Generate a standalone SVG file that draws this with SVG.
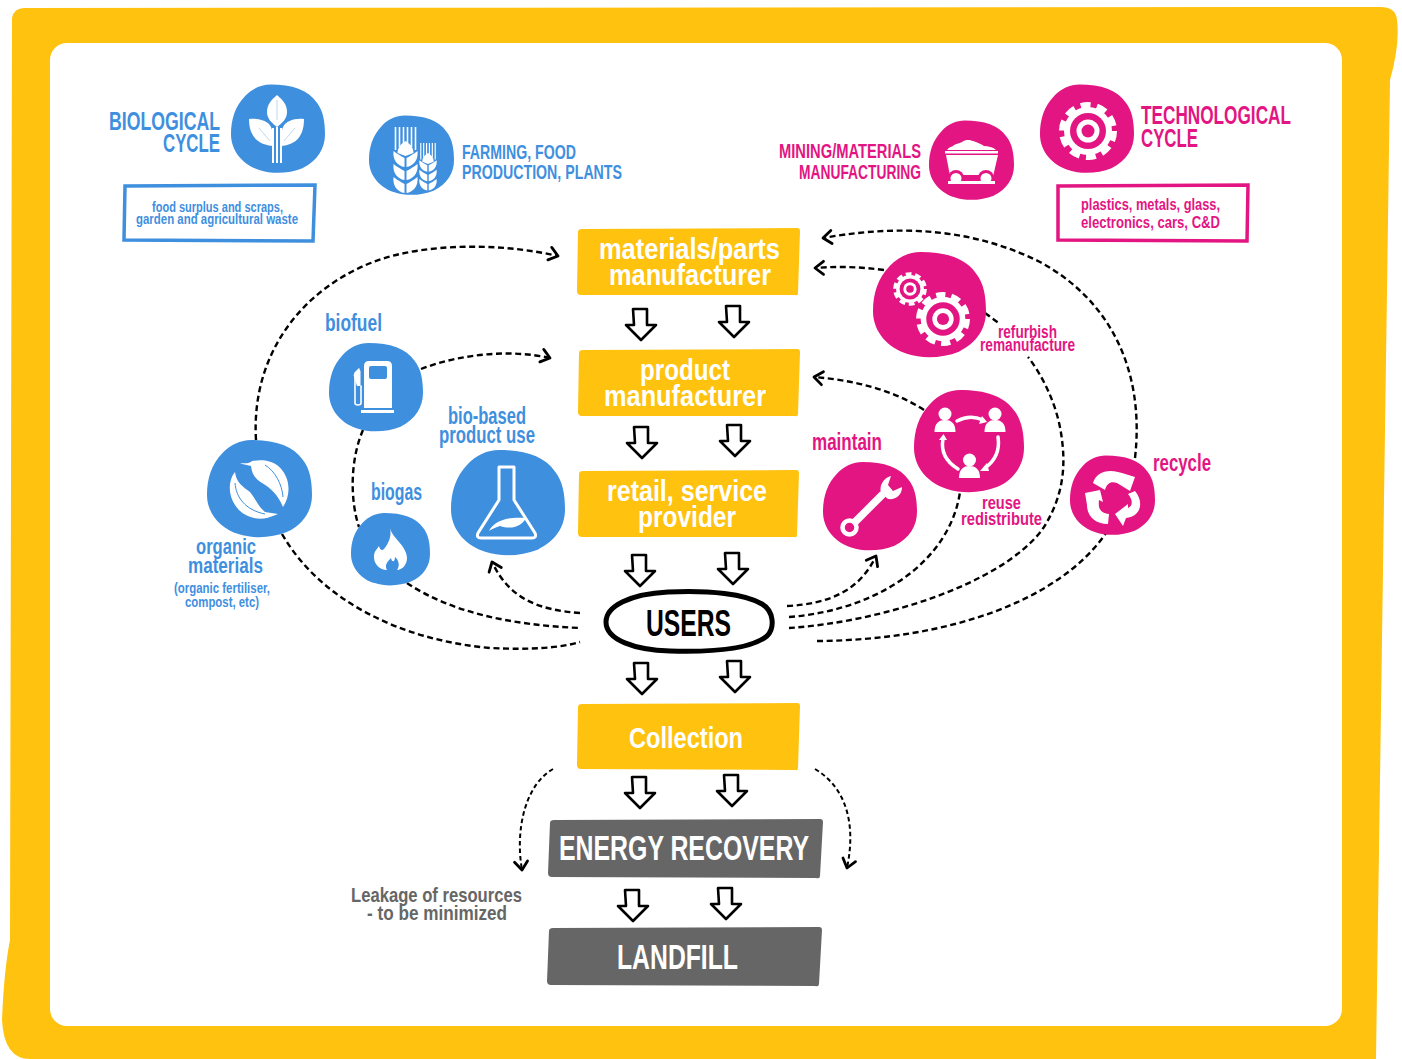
<svg xmlns="http://www.w3.org/2000/svg" xmlns:xlink="http://www.w3.org/1999/xlink" width="1402" height="1059" viewBox="0 0 1402 1059">
<style>
text{font-family:"Liberation Sans Narrow","Liberation Sans",Arial,sans-serif;font-weight:700}
.b{fill:#3f8fdf}.p{fill:#e31582}.w{fill:#fff}.g{fill:#666}.y{fill:#ffc20e}.k{fill:#000}
.bs{fill:#fff;stroke:#3f8fdf;stroke-width:3.5}.ps{fill:#fff;stroke:#e31582;stroke-width:3.5}
.ws{fill:none;stroke:#fff;stroke-linecap:round;stroke-linejoin:round}
.c{fill:none;stroke:#000;stroke-width:2.4;stroke-dasharray:6 3.6}
.c1{marker-end:url(#ah)}
.c2{stroke-width:2;stroke-dasharray:4.5 3;marker-end:url(#ah)}
.down{fill:#fff;stroke:#000;stroke-width:2.6;stroke-linejoin:round}
</style>
<defs>
<marker id="ah" markerUnits="userSpaceOnUse" markerWidth="20" markerHeight="20" refX="11" refY="8" orient="auto" overflow="visible">
<path d="M3,1 L11,8 L2,14" fill="none" stroke="#000" stroke-width="2.8" stroke-linecap="round" stroke-linejoin="round"/>
</marker>
<path id="blob" d="M-8,-50 C15,-50 32,-44 41,-30 C48,-21 50,-8 50,6 C50,22 42,36 26,44 C12,50 -6,51 -20,46 C-36,41 -50,26 -50,6 C-50,-10 -46,-25 -35,-37 C-28,-45 -18,-50 -8,-50 Z"/>
<path id="dn" d="M-8,-31 L6,-31 L6,-15 L15,-15 L0,0 L-15,-15 L-7,-15 Z"/>
<g id="gear">
<circle r="24" class="w"/>
<circle r="26" fill="none" stroke="#fff" stroke-width="6" stroke-dasharray="10 6.34"/>
<circle r="18" class="p"/><circle r="11.5" class="w"/><circle r="6.5" class="p"/>
</g>
<g id="wheat">
<path d="M-10,0V23M-6,0V20M-2,0V16M2,0V16M6,0V20M10,0V23" stroke="#fff" stroke-width="1.6" fill="none"/>
<path d="M0,14 C5,17 8,21 8,26 L0,29 L-8,26 C-8,21 -5,17 0,14Z" class="w"/>
<g id="gr">
<path d="M-1,40 L-1,31 C-4,29.500 -8,27 -12,24 C-13,33 -8,39 -1,40Z" class="w"/>
<path d="M1,40 L1,31 C4,29.500 8,27 12,24 C13,33 8,39 1,40Z" class="w"/>
</g>
<use xlink:href="#gr" href="#gr" y="13"/>
<use xlink:href="#gr" href="#gr" y="26"/>
</g>
<g id="person"><circle cy="-6" r="6.5" class="w"/><path d="M-10.5,12 C-10.5,3 -6,0 0,0 C6,0 10.5,3 10.5,12 Z" class="w"/></g>
</defs>

<g id="frame">
<path class="y" d="M12,18 Q14,8 24,8 L1380,7 Q1396,7 1397,20 Q1400,45 1390,80 L1376,1059 L30,1059 Q4,1059 2,1020 Q4,970 10,940 Z"/>
<rect x="50" y="43" width="1292" height="983" rx="17" class="w"/>
</g>

<g id="connectors">
<path class="c c1" d="M256,440 C250,340 320,272 400,254 C450,243 510,245 558,256"/>
<path class="c c1" d="M421,369 C460,354 510,349 550,358"/>
<path class="c" d="M363,430 C350,460 350,500 359,527"/>
<path class="c" d="M407,583 C450,612 510,625 580,628"/>
<path class="c" d="M282,534 C320,600 400,640 490,648 C530,650 560,648 580,642"/>
<path class="c c1" d="M580,613 C540,610 510,600 492,562"/>
<path class="c c1" d="M787,606 C830,604 860,590 876,556"/>
<path class="c" d="M789,617 C880,610 950,560 960,492"/>
<path class="c" d="M789,628 C880,622 1000,585 1042,530 C1062,500 1066,470 1062,440 C1058,405 1042,375 1028,357"/>
<path class="c" d="M985,313 L1000,324"/>
<path class="c" d="M817,641 C950,640 1060,600 1106,533"/>
<path class="c c1" d="M1135,458 C1145,370 1110,300 1040,262 C960,222 880,228 823,238"/>
<path class="c c1" d="M884,270 C860,267 840,266 815,268"/>
<path class="c c1" d="M924,410 C890,388 850,380 814,377"/>
<path class="c c2" d="M553,769 C525,785 515,830 522,870"/>
<path class="c c2" d="M815,769 C850,790 855,830 847,868"/>
<use xlink:href="#dn" href="#dn" class="down" x="641" y="340"/><use xlink:href="#dn" href="#dn" class="down" x="734" y="337"/>
<use xlink:href="#dn" href="#dn" class="down" x="642" y="458"/><use xlink:href="#dn" href="#dn" class="down" x="735" y="456"/>
<use xlink:href="#dn" href="#dn" class="down" x="640" y="586"/><use xlink:href="#dn" href="#dn" class="down" x="733" y="584"/>
<use xlink:href="#dn" href="#dn" class="down" x="642" y="694"/><use xlink:href="#dn" href="#dn" class="down" x="735" y="692"/>
<use xlink:href="#dn" href="#dn" class="down" x="640" y="808"/><use xlink:href="#dn" href="#dn" class="down" x="732" y="806"/>
<use xlink:href="#dn" href="#dn" class="down" x="633" y="921"/><use xlink:href="#dn" href="#dn" class="down" x="726" y="919"/>
</g>

<g id="biological-cycle">
<use xlink:href="#blob" href="#blob" class="b" transform="translate(278,129) scale(.94,.89)"/>
<path class="w" d="M277,95 C283,100 287,105 287,112 C287,119 282,123 277,127 C272,123 267,119 267,112 C267,105 271,100 277,95Z"/>
<path class="w" d="M249,119 C259,118 268,121 271,127 C273,131 273,139 273,146 C262,145 249,140 249,119Z"/>
<path class="w" d="M304,119 C294,118 286,121 283,127 C281,131 281,139 281,146 C292,145 304,140 304,119Z"/>
<path class="w" d="M272,128 h2 v35 h-2z M276,127 h2 v36 h-2z M280,128 h2 v35 h-2z"/>
<path d="M277,100 V120 M259,128 L270,141 M295,128 L284,141" stroke="#bcd8f5" stroke-width="1" fill="none"/>
<text class="b" font-size="25" x="109" y="130" textLength="111" lengthAdjust="spacingAndGlyphs">BIOLOGICAL</text>
<text class="b" font-size="25" x="163" y="152" textLength="57" lengthAdjust="spacingAndGlyphs">CYCLE</text>
<path class="bs" d="M125,186 L315,185 L313,241 L124,240 Z"/>
<text class="b" font-size="14" x="152" y="212" textLength="131" lengthAdjust="spacingAndGlyphs">food surplus and scraps,</text>
<text class="b" font-size="14" x="136" y="224" textLength="162" lengthAdjust="spacingAndGlyphs">garden and agricultural waste</text>
</g>

<g id="farming">
<use xlink:href="#blob" href="#blob" class="b" transform="translate(411.500,155.500) scale(.85,.8)"/>
<use xlink:href="#wheat" href="#wheat" transform="translate(405.500,127)"/>
<use xlink:href="#wheat" href="#wheat" transform="translate(428,143) scale(.72)"/>
<text class="b" font-size="20.500" x="462" y="159" textLength="114" lengthAdjust="spacingAndGlyphs">FARMING, FOOD</text>
<text class="b" font-size="20.500" x="462" y="179" textLength="160" lengthAdjust="spacingAndGlyphs">PRODUCTION, PLANTS</text>
</g>

<g id="mining">
<use xlink:href="#blob" href="#blob" class="p" transform="translate(971.500,160.500) scale(.85,.8)"/>
<path class="w" d="M947,150 C949,147 951,147 953,146 C956,143 959,144 962,142 C966,139 970,140 973,141 C977,142 981,144 984,146 C988,146 993,147 996,150Z"/>
<rect x="945" y="151" width="53" height="2.500" class="w"/>
<path class="w" d="M946,155 L998,155 L992,181 L951,181 Z"/>
<path class="p" d="M963,175 h17 v6 h-17z"/>
<circle cx="956" cy="178" r="8" class="p"/><circle cx="986" cy="178" r="8" class="p"/>
<circle cx="956" cy="178.500" r="5.500" class="w"/><circle cx="986" cy="178.500" r="5.500" class="w"/>
<rect x="944" y="183" width="54" height="5" class="p"/>
<rect x="948" y="181" width="47" height="3" class="w"/>
<text class="p" font-size="20.500" x="779" y="158" textLength="142" lengthAdjust="spacingAndGlyphs">MINING/MATERIALS</text>
<text class="p" font-size="20.500" x="799" y="179" textLength="122" lengthAdjust="spacingAndGlyphs">MANUFACTURING</text>
</g>

<g id="technological-cycle">
<use xlink:href="#blob" href="#blob" class="p" transform="translate(1087,129) scale(.94,.89)"/>
<use xlink:href="#gear" href="#gear" transform="translate(1088,131)"/>
<text class="p" font-size="25" x="1141" y="124" textLength="150" lengthAdjust="spacingAndGlyphs">TECHNOLOGICAL</text>
<text class="p" font-size="25" x="1141" y="147" textLength="57" lengthAdjust="spacingAndGlyphs">CYCLE</text>
<path class="ps" d="M1058,186 L1248,185 L1247,241 L1058,240 Z"/>
<text class="p" font-size="16" x="1081" y="210" textLength="139" lengthAdjust="spacingAndGlyphs">plastics, metals, glass,</text>
<text class="p" font-size="16" x="1081" y="228" textLength="139" lengthAdjust="spacingAndGlyphs">electronics, cars, C&amp;D</text>
</g>

<g id="materials-parts">
<path class="y" d="M578,232 Q578,229 582,229 L797,228 Q800,228 800,231 L798,293 Q798,296 795,295 L581,295 Q577,295 577,291 Z"/>
<text class="w" font-size="30" x="599" y="259" textLength="181" lengthAdjust="spacingAndGlyphs">materials/parts</text>
<text class="w" font-size="30" x="609" y="285" textLength="162" lengthAdjust="spacingAndGlyphs">manufacturer</text>
</g>
<g id="product-manufacturer">
<path class="y" d="M579,353 Q579,350 583,350 L797,349 Q800,349 800,352 L798,414 Q798,417 795,416 L582,416 Q578,416 578,412 Z"/>
<text class="w" font-size="30" x="640" y="380" textLength="90" lengthAdjust="spacingAndGlyphs">product</text>
<text class="w" font-size="30" x="604" y="406" textLength="162" lengthAdjust="spacingAndGlyphs">manufacturer</text>
</g>
<g id="retail">
<path class="y" d="M579,474 Q579,471 583,471 L796,470 Q799,470 799,473 L797,535 Q797,538 794,537 L582,537 Q578,537 578,533 Z"/>
<text class="w" font-size="30" x="607" y="501" textLength="160" lengthAdjust="spacingAndGlyphs">retail, service</text>
<text class="w" font-size="30" x="638" y="527" textLength="98" lengthAdjust="spacingAndGlyphs">provider</text>
</g>
<g id="users">
<path d="M606,622 C606,606 630,594 668,592 C710,590 745,594 762,604 C774,611 775,628 767,636 C750,650 705,652 670,651 C635,650 606,640 606,622Z" fill="#fff" stroke="#000" stroke-width="5"/>
<text class="k" font-size="36" x="646" y="636" textLength="85" lengthAdjust="spacingAndGlyphs">USERS</text>
</g>
<g id="collection">
<path class="y" d="M578,707 Q578,704 582,704 L797,703 Q800,703 800,706 L798,768 Q798,771 795,770 L581,769 Q577,769 577,765 Z"/>
<text class="w" font-size="30" x="629" y="748" textLength="114" lengthAdjust="spacingAndGlyphs">Collection</text>
</g>
<g id="energy-recovery">
<path class="g" d="M550,823 Q550,820 554,820 L820,819 Q823,819 823,822 L820,876 Q820,879 816,878 L552,877 Q548,877 548,873 Z"/>
<text class="w" font-size="35" x="559" y="860" textLength="250" lengthAdjust="spacingAndGlyphs">ENERGY RECOVERY</text>
</g>
<g id="landfill">
<path class="g" d="M549,931 Q549,928 553,928 L819,927 Q822,927 822,930 L819,984 Q819,987 815,986 L551,985 Q547,985 547,981 Z"/>
<text class="w" font-size="35" x="617" y="969" textLength="121" lengthAdjust="spacingAndGlyphs">LANDFILL</text>
</g>
<g id="leakage">
<text class="g" font-size="21" x="351" y="902" textLength="171" lengthAdjust="spacingAndGlyphs">Leakage of resources</text>
<text class="g" font-size="21" x="367" y="920" textLength="140" lengthAdjust="spacingAndGlyphs">- to be minimized</text>
</g>

<g id="biofuel">
<use xlink:href="#blob" href="#blob" class="b" transform="translate(376,387.500) scale(.94,.89)"/>
<path class="w" d="M364,366 Q364,361 369,361 H387 Q392,361 392,366 V408 H364Z"/>
<rect x="369" y="366" width="18" height="13" rx="2" class="b"/>
<rect x="361" y="410" width="33" height="3" class="w"/>
<path class="ws" stroke-width="1.600" d="M359,369 L355,373 V403 Q355,405 358,405 Q361,405 361,403 V386"/>
<path class="w" d="M353.500,375 L359,369 L360.500,371 L360.500,386 L357,386 Z"/>
<text class="b" font-size="23" x="325" y="331" textLength="57" lengthAdjust="spacingAndGlyphs">biofuel</text>
</g>
<g id="biogas">
<use xlink:href="#blob" href="#blob" class="b" transform="translate(390.500,549.500) scale(.79,.73)"/>
<path class="w" d="M390,528 C392,538 407,546 407,558 C407,565 402,570 397,570 C400,566 399,560 395,557 C395,562 392,563 391,558 C388,561 384,565 387,570 C380,570 373,564 374,555 C375,550 378,548 379,546 C380,550 382,551 384,549 C388,544 392,537 390,528Z"/>
<text class="b" font-size="23" x="371" y="500" textLength="51" lengthAdjust="spacingAndGlyphs">biogas</text>
</g>
<g id="bio-based">
<use xlink:href="#blob" href="#blob" class="b" transform="translate(508,503) scale(1.14,1.06)"/>
<path class="ws" stroke-width="3" d="M499,467 H514 V500 L535,533 Q537,538 532,538 H481 Q476,538 478,533 L499,500 Z"/>
<path class="w" d="M489,531 C493,523 504,516 526,518 C522,526 512,530 500,526 C496,527 492,529 489,531Z"/>
<text class="b" font-size="23" x="448" y="424" textLength="78" lengthAdjust="spacingAndGlyphs">bio-based</text>
<text class="b" font-size="23" x="439" y="443" textLength="96" lengthAdjust="spacingAndGlyphs">product use</text>
</g>
<g id="organic">
<use xlink:href="#blob" href="#blob" class="b" transform="translate(259.500,489) scale(1.05,.98)"/>
<path class="w" d="M240,463.500 C245,463 249,464 252,461 C262,459 275,460 282,470 C290,480 291,495 283,507 C278,495 271,488 262,483 C255,479 252,474 251,466 Z"/>
<path class="w" d="M235,472 C228,480 228,495 235,505 C241,515 255,521 267,518 C271,517 275,515 278,514 L265,512 C258,506 255,498 250,492 C243,487 236,482 235,472Z"/>
<path d="M265,465 C275,471 282,484 283,497 M235,483 C236,497 245,510 265,514" fill="none" stroke="#3f8fdf" stroke-width="1"/>
<text class="b" font-size="22" x="196" y="554" textLength="60" lengthAdjust="spacingAndGlyphs">organic</text>
<text class="b" font-size="22" x="188" y="573" textLength="75" lengthAdjust="spacingAndGlyphs">materials</text>
<text class="b" font-size="15" x="174" y="593" textLength="96" lengthAdjust="spacingAndGlyphs">(organic fertiliser,</text>
<text class="b" font-size="15" x="185" y="607" textLength="74" lengthAdjust="spacingAndGlyphs">compost, etc)</text>
</g>

<g id="refurbish">
<use xlink:href="#blob" href="#blob" class="p" transform="translate(929.500,305) scale(1.13,1.06)"/>
<use xlink:href="#gear" href="#gear" transform="translate(910,289) scale(.58)"/>
<use xlink:href="#gear" href="#gear" transform="translate(943,319) scale(.93)"/>
<text class="p" font-size="18" x="998" y="338" textLength="59" lengthAdjust="spacingAndGlyphs">refurbish</text>
<text class="p" font-size="18" x="980" y="351" textLength="95" lengthAdjust="spacingAndGlyphs">remanufacture</text>
</g>
<g id="reuse">
<use xlink:href="#blob" href="#blob" class="p" transform="translate(969,441.500) scale(1.1,1.03)"/>
<use xlink:href="#person" href="#person" transform="translate(945,420)"/>
<use xlink:href="#person" href="#person" transform="translate(995,420)"/>
<use xlink:href="#person" href="#person" transform="translate(969.500,466)"/>
<path class="ws" stroke-width="3.500" d="M957,421 Q970,414 983,420"/>
<path class="w" d="M982,416 L987,422 L979,424Z"/>
<path class="ws" stroke-width="3.500" d="M958,469 C945,461 941,450 943,439"/>
<path class="w" d="M939,440 L943.500,434 L947,440Z"/>
<path class="ws" stroke-width="3.500" d="M985,468 C996,460 1000,450 998,437"/>
<path class="w" d="M980,471 L987,463 L989,471Z"/>
<text class="p" font-size="18" x="982" y="509" textLength="39" lengthAdjust="spacingAndGlyphs">reuse</text>
<text class="p" font-size="18" x="961" y="525" textLength="81" lengthAdjust="spacingAndGlyphs">redistribute</text>
</g>
<g id="maintain">
<use xlink:href="#blob" href="#blob" class="p" transform="translate(870,506.500) scale(.94,.89)"/>
<circle cx="849.500" cy="527.500" r="7" fill="none" stroke="#fff" stroke-width="4.500"/>
<path d="M855,522 L883,494" stroke="#fff" stroke-width="7.500" fill="none"/>
<path class="w" d="M891,476 C883,478 879,486 881,493 L888,499 C896,500 902,495 902,487 L893,491 L888,485 Z"/>
<text class="p" font-size="23" x="812" y="450" textLength="70" lengthAdjust="spacingAndGlyphs">maintain</text>
</g>
<g id="recycle">
<use xlink:href="#blob" href="#blob" class="p" transform="translate(1112.500,495.500) scale(.85,.8)"/>
<path class="w" d="M1093,483 C1096,473 1106,469 1118,472 L1122,473 L1135,477 L1130,491 L1117,483 C1111,481 1107,483 1105,490 Z"/>
<path class="w" d="M1085,493 L1100,490 L1103,502 L1099,500 C1098,508 1100,513 1109,514 L1108,524 C1095,524 1087,516 1087,505 Z"/>
<path class="w" d="M1123,526 L1115,514 L1128,504 L1128,508 C1133,506 1133,500 1128,494 L1135,491 C1143,500 1143,516 1126,518 Z"/>
<text class="p" font-size="23" x="1153" y="471" textLength="58" lengthAdjust="spacingAndGlyphs">recycle</text>
</g>
</svg>
